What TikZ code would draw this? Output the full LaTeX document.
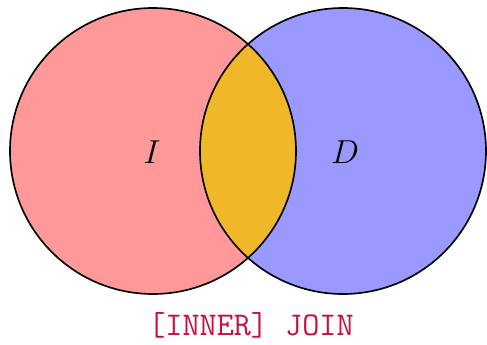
\documentclass[tikz,border=0pt]{standalone}
\definecolor{leftfill}{RGB}{255,153,153}
\definecolor{rightfill}{RGB}{153,153,255}
\definecolor{lensfill}{RGB}{240,184,40}
\definecolor{joincolor}{RGB}{200,16,66}
\begin{document}
\begin{tikzpicture}[
    x=0.127mm, y=-0.127mm,
    line cap=round,
    line join=round,
    circ/.style={line width=0.6pt},
    setlabel/.style={font=\large},
    joinlabel/.style={text=joincolor,font=\large\ttfamily}
]

% -------------------------------------------------
% Рамка рисунка
% -------------------------------------------------
\useasboundingbox (0,0) rectangle (487,345);

% -------------------------------------------------
% Центры кругов
% -------------------------------------------------
\coordinate (L) at (153,151);  % левая таблица
\coordinate (R) at (343,151);  % правая таблица

% -------------------------------------------------
% Заливка
% -------------------------------------------------
\fill[leftfill] (L) circle (143);
\fill[rightfill] (R) circle (143);
\begin{scope}
  \clip (L) circle (143);
  \fill[lensfill] (R) circle (143);
\end{scope}

% -------------------------------------------------
% Контуры
% -------------------------------------------------
\draw[circ] (L) circle (143);
\draw[circ] (R) circle (143);

% -------------------------------------------------
% Подписи
% -------------------------------------------------
\node[setlabel] (I) at (152,152) {$I$};
\node[setlabel] (D) at (345,152) {$D$};
\node[joinlabel] (J) at (251,325) {[INNER] JOIN};

\end{tikzpicture}
\end{document}
